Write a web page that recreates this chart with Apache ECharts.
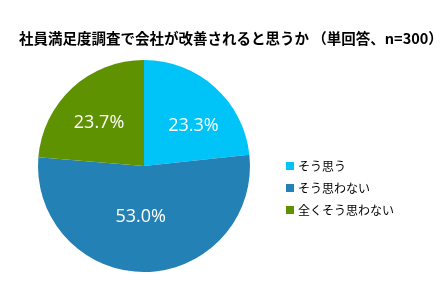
<!DOCTYPE html>
<html><head><meta charset="utf-8">
<script src="https://cdn.jsdelivr.net/npm/echarts@6/dist/echarts.min.js"></script>
<style>html,body{margin:0;padding:0;background:#fff}#c{width:446px;height:296px}</style>
</head><body><div id="c"></div>
<script>
var titleText = '社員満足度調査で会社が改善されると思うか （単回答、n=300）';
var categories = ['そう思う', 'そう思わない', '全くそう思わない'];
var values = [23.3, 53.0, 23.7];
var colors = ['#00C4F8', '#2481B5', '#5F9200'];
var labelNudge = [[12, 2], [-4, -5], [-7, -2]];

var chart = echarts.init(document.getElementById('c'), null, {renderer: 'canvas'});
var cx = 144, cy = 166, R = 106;
chart.setOption({
  backgroundColor: '#fff',
  animation: false,
  title: {
    text: titleText, left: 14, top: 26,
    textStyle: {fontFamily: 'Noto Sans CJK JP', fontSize: 14.5, fontWeight: 'bold', color: '#000'}
  },
  legend: {
    orient: 'vertical', left: 281, top: 155,
    icon: 'rect', itemWidth: 8, itemHeight: 8, itemGap: 10,
    textStyle: {fontFamily: 'Noto Sans CJK JP', fontSize: 12, color: '#000', padding: [0,0,0,-1]},
    data: categories
  },
  color: colors,
  series: [{
    type: 'pie',
    center: [cx, cy],
    radius: [0, R],
    startAngle: 90,
    clockwise: true,
    label: {
      show: true, position: 'inside', color: '#fff',
      fontFamily: 'Open Sans', fontSize: 18,
      formatter: function (p) { return p.value.toFixed(1) + '%'; }
    },
    labelLine: {show: false},
    labelLayout: function (p) {
      var n = labelNudge[p.dataIndex];
      return {dx: n[0], dy: n[1]};
    },
    itemStyle: {borderWidth: 0},
    emphasis: {disabled: true},
    data: categories.map(function (c, i) { return {name: c, value: values[i]}; })
  }]
});
</script></body></html>
